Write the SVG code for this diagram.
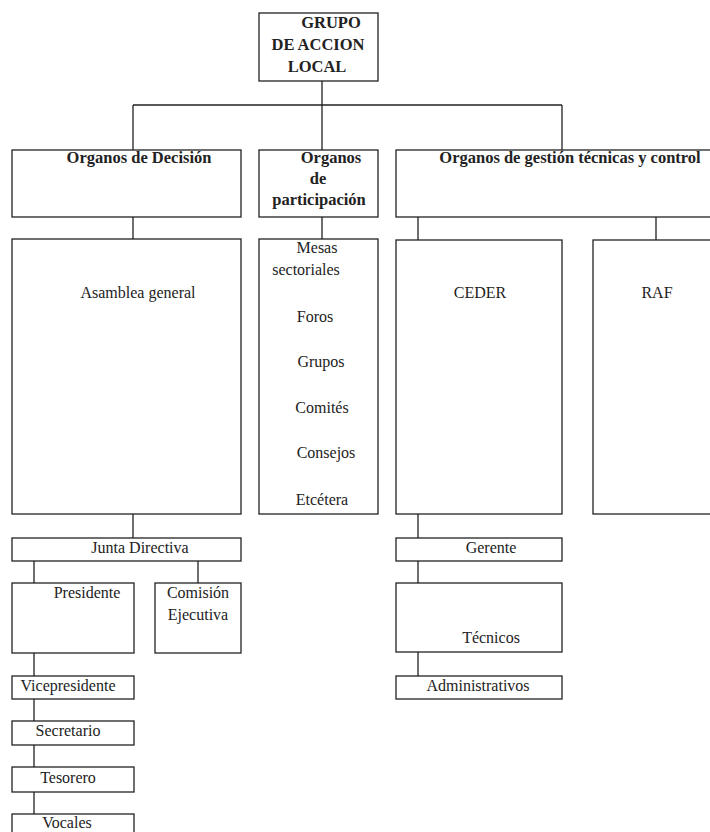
<svg xmlns="http://www.w3.org/2000/svg" width="710" height="832" viewBox="0 0 710 832">
<style>
.b{fill:#fff;stroke:#222;stroke-width:1.3}
.c{fill:none;stroke:#222;stroke-width:1.3}
text{font-family:'Liberation Serif','DejaVu Serif',serif;font-size:16px;font-weight:normal;fill:#222;text-anchor:middle}
text.h{font-weight:bold;font-size:16.5px}
</style>
<rect width="710" height="832" fill="#fff"/>
<g id="connectors">
<path class="c" d="M322,81V105M133,105H562M133,105V150M322,105V150M562,105V150"/>
<path class="c" d="M133,217V239M322,217V239M418,217V240M656,217V240"/>
<path class="c" d="M133,514V538M34,561V583M198,561V583M34,653V676M34,699V721M34,745V767M34,792V814"/>
<path class="c" d="M418,514V538M418,561V583M418,652V676"/>
</g>
<g id="grupo"><rect class="b" x="259" y="13" width="119" height="68"/>
<text class="h" x="331" y="28">GRUPO</text><text class="h" x="318" y="50">DE ACCION</text><text class="h" x="317" y="72">LOCAL</text></g>
<g id="decision"><rect class="b" x="12" y="150" width="229" height="67"/><text class="h" x="139" y="163">Organos de Decisión</text></g>
<g id="participacion"><rect class="b" x="259" y="150" width="119" height="67"/>
<text class="h" x="331" y="163">Organos</text><text class="h" x="318" y="184">de</text><text class="h" x="319" y="205">participación</text></g>
<g id="gestion"><rect class="b" x="396" y="150" width="320" height="67"/><text class="h" x="570" y="163">Organos de gestión técnicas y control</text></g>
<g id="asamblea"><rect class="b" x="12" y="239" width="229" height="275"/><text x="138" y="298">Asamblea general</text></g>
<g id="mesas"><rect class="b" x="259" y="239" width="119" height="275"/>
<text x="317" y="253">Mesas</text><text x="306" y="275">sectoriales</text><text x="315" y="322">Foros</text><text x="321" y="367">Grupos</text><text x="322" y="413">Comités</text><text x="326" y="458">Consejos</text><text x="322" y="505">Etcétera</text></g>
<g id="ceder"><rect class="b" x="396" y="240" width="166" height="274"/><text x="480" y="298">CEDER</text></g>
<g id="raf"><rect class="b" x="593" y="240" width="125" height="274"/><text x="657" y="298">RAF</text></g>
<g id="junta"><rect class="b" x="12" y="538" width="229" height="23"/><text x="140" y="553">Junta Directiva</text></g>
<g id="presidente"><rect class="b" x="12" y="583" width="122" height="70"/><text x="87" y="598">Presidente</text></g>
<g id="comision"><rect class="b" x="155" y="583" width="86" height="70"/><text x="198" y="598">Comisión</text><text x="198" y="620">Ejecutiva</text></g>
<g id="vicepresidente"><rect class="b" x="12" y="676" width="122" height="23"/><text x="68" y="691">Vicepresidente</text></g>
<g id="secretario"><rect class="b" x="12" y="721" width="122" height="24"/><text x="68" y="736">Secretario</text></g>
<g id="tesorero"><rect class="b" x="12" y="767" width="122" height="25"/><text x="68" y="783">Tesorero</text></g>
<g id="vocales"><rect class="b" x="12" y="814" width="122" height="30"/><text x="67" y="828">Vocales</text></g>
<g id="gerente"><rect class="b" x="396" y="538" width="166" height="23"/><text x="491" y="553">Gerente</text></g>
<g id="tecnicos"><rect class="b" x="396" y="583" width="166" height="69"/><text x="491" y="643">Técnicos</text></g>
<g id="administrativos"><rect class="b" x="396" y="676" width="166" height="23"/><text x="478" y="691">Administrativos</text></g>
</svg>
